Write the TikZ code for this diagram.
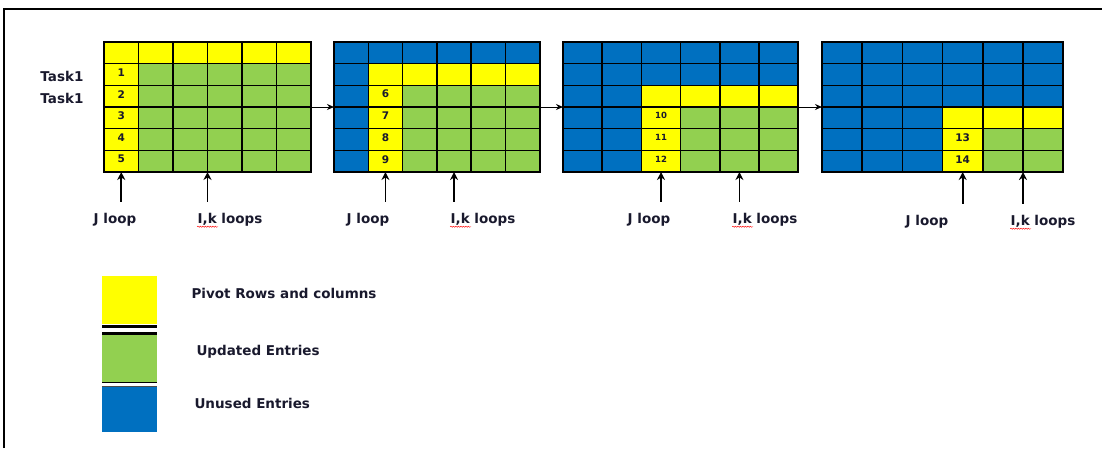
\documentclass[tikz,border=0pt]{standalone}
\usepackage{fontspec}
\setmainfont{DejaVu Sans}
\usetikzlibrary{positioning,arrows.meta,calc,decorations.pathmorphing}
\definecolor{pivotyellow}{RGB}{255,255,0}
\definecolor{updgreen}{RGB}{146,208,80}
\definecolor{unusedblue}{RGB}{0,112,192}
\definecolor{labelnavy}{RGB}{25,25,45}
\begin{document}
\begin{tikzpicture}[x=1pt,y=1pt,
    every node/.style={font=\bfseries\fontsize{13.5}{15}\selectfont,text=labelnavy},
    cell/.style={draw=black,line width=1.5pt,minimum height=21.67pt,inner sep=0pt,outer sep=0pt},
    num/.style={font=\bfseries\fontsize{10.5}{12}\selectfont,yshift=2pt},
    smallnum/.style={font=\bfseries\fontsize{8.5}{10}\selectfont,yshift=2pt},
    steparrow/.style={-{Stealth[length=7pt,width=6pt]},line width=1pt},
    uparrow/.style={-{Stealth[length=8pt,width=8pt]},line width=1.8pt},
    keybox/.style={minimum width=55pt,inner sep=0pt,outer sep=0pt}]
  \useasboundingbox (0,0) rectangle (1102,-448);
  \draw[line width=1.8pt] (4,-448) -- (4,-9) -- (1102,-9);
  % the four stages of the matrix
  \foreach \k/\s/\x/\w in {1/0/104/34.5, 2/1/334/34.3, 3/2/563/39.2, 4/3/822/40.2} {
    \foreach \r in {0,...,5} {
      \foreach \c in {0,...,5} {
        \pgfmathtruncatemacro\m{min(\r,\c)}
        \ifnum\m<\s \def\cellcol{unusedblue}\else\ifnum\m=\s \def\cellcol{pivotyellow}\else\def\cellcol{updgreen}\fi\fi
        \node[cell,fill=\cellcol,minimum width=\w pt] (g\k-\r-\c) at (\x+\c*\w+\w/2,-42-\r*21.67-10.83) {};
      }
    }
  }
  \foreach \k/\r/\c/\n in {1/1/0/1, 1/2/0/2, 1/3/0/3, 1/4/0/4, 1/5/0/5, 2/2/1/6, 2/3/1/7, 2/4/1/8, 2/5/1/9, 4/4/3/13, 4/5/3/14}
    \node[num] at (g\k-\r-\c) {\n};
  \foreach \r/\n in {3/10, 4/11, 5/12}
    \node[smallnum] at (g3-\r-2) {\n};
  \node[anchor=east] (t1) at (87,-76) {Task1};
  \node[anchor=east] (t2) at (87,-98) {Task1};
  \draw[steparrow] (g1-2-5.south east) -- (g2-2-0.south west);
  \draw[steparrow] (g2-2-5.south east) -- (g3-2-0.south west);
  \draw[steparrow] (g3-2-5.south east) -- (g4-2-0.south west);
  % loop labels
  \node (j1) at (115,-220) {J loop};
  \node (ik1) at (230,-220) {I,k loops};
  \node (j2) at (368,-220) {J loop};
  \node (ik2) at (483,-220) {I,k loops};
  \node (j3) at (649,-220) {J loop};
  \node (ik3) at (765,-220) {I,k loops};
  \node (j4) at (927,-222) {J loop};
  \node (ik4) at (1043,-222) {I,k loops};
  \draw[uparrow] ($(j1.north -| g1-5-0.south)+(0,8)$) -- (g1-5-0.south);
  \draw[uparrow] ($(ik1.north -| g1-5-2.south east)+(0,8)$) -- (g1-5-2.south east);
  \draw[uparrow] ($(j2.north -| g2-5-1.south)+(0,8)$) -- (g2-5-1.south);
  \draw[uparrow] ($(ik2.north -| g2-5-3.south)+(0,8)$) -- (g2-5-3.south);
  \draw[uparrow] ($(j3.north -| g3-5-2.south)+(0,8)$) -- (g3-5-2.south);
  \draw[uparrow] ($(ik3.north -| g3-5-4.south)+(0,8)$) -- (g3-5-4.south);
  \draw[uparrow] ($(j4.north -| g4-5-3.south)+(0,8)$) -- (g4-5-3.south);
  \draw[uparrow] ($(ik4.north -| g4-5-4.south east)+(0,8)$) -- (g4-5-4.south east);
  \foreach \i in {1,...,4}
    \draw[red,line width=0.4pt,decorate,decoration={snake,segment length=2.5pt,amplitude=0.6pt}]
      ($(ik\i.base west)+(3,-3)$) -- ++(21,0);
  % legend
  \node[keybox,fill=pivotyellow,minimum height=48pt,anchor=north west] (kpivot) at (102,-276) {};
  \node[keybox,fill=updgreen,minimum height=47pt,anchor=north west] (kupd) at (102,-335) {};
  \node[keybox,fill=unusedblue,minimum height=46pt,anchor=north west] (kunused) at (102,-386) {};
  \draw[line width=2.8pt] ($(kpivot.south west)+(0,-2.5)$) -- ($(kpivot.south east)+(0,-2.5)$);
  \draw[line width=2.8pt] ($(kupd.north west)+(0,1.5)$) -- ($(kupd.north east)+(0,1.5)$);
  \draw[line width=0.8pt] (kupd.south west) -- (kupd.south east);
  \draw[line width=0.6pt,black!70] (kunused.north west) -- (kunused.north east);
  \node[anchor=west] (lpivot) at (188,-293) {Pivot Rows and columns};
  \node[anchor=west] (lupd) at (193,-352) {Updated Entries};
  \node[anchor=west] (lunused) at (191,-403) {Unused Entries};
\end{tikzpicture}
\end{document}
